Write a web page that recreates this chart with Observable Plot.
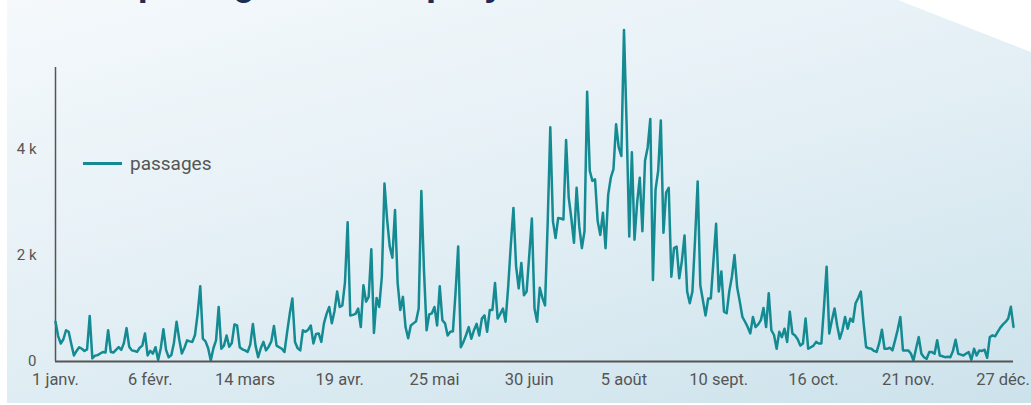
<!DOCTYPE html>
<html><head><meta charset="utf-8">
<script src="https://cdn.jsdelivr.net/npm/d3@7"></script>
<script src="https://cdn.jsdelivr.net/npm/@observablehq/plot@0.6"></script>
<style>
html,body{margin:0;padding:0;background:#fff;width:1031px;height:405px;overflow:hidden;position:relative;}
#panel{position:absolute;left:7px;top:0;width:1024px;height:403px;background:linear-gradient(165deg,#f5f9fc 0%,#e3eff5 50%,#cce2eb 100%);clip-path:polygon(0 0,891px 0,1024px 52px,1024px 403px,0 403px);}
#title{position:absolute;left:72px;top:-38px;font:bold 36px Roboto,sans-serif;color:#1e2c56;white-space:nowrap;}
#chart{position:absolute;left:0;top:0;}
#legend{position:absolute;left:83px;top:151px;height:24px;display:flex;align-items:center;font:19px Roboto,sans-serif;color:#555;}
#legend .sw{width:39px;height:3px;background:#148a93;margin-right:8px;}
</style></head>
<body>
<div id="panel"></div>
<div id="title">Les passages de vélo par jour</div>
<div id="chart"></div>
<div id="legend"><span class="sw"></span><span>passages</span></div>
<script>
const startDate = "2019-01-01";
const endDate = "2019-12-31";
const passages = [
750,480,340,420,590,560,330,115,200,270,240,200,230,860,60,110,120,150,180,170,
590,180,170,220,270,220,350,630,280,210,200,180,260,300,530,115,200,150,270,30,
250,610,220,80,120,350,750,420,150,260,400,380,370,500,900,1420,430,380,250,20,
250,400,1030,240,300,490,280,350,700,680,270,230,210,180,320,710,300,80,250,370,
210,280,380,670,300,270,240,180,550,900,1190,370,250,210,590,560,600,680,340,520,
530,370,720,900,1030,720,950,1320,1030,1060,1500,2630,870,880,900,1000,650,1440,1130,1220,
2120,540,1200,1030,1600,3360,2680,2170,1960,2860,1480,970,1220,650,440,680,720,760,1000,3220,
1730,590,890,910,1030,680,1420,780,720,490,560,570,1300,2170,270,370,500,650,430,590,
710,490,810,870,560,970,970,1480,810,900,1000,750,1410,2200,2900,1800,1380,1860,1250,1320,
2000,2700,1000,750,1390,1200,1060,2600,4420,2650,2330,2710,2700,2680,4180,3100,2700,2240,3280,2550,
2140,2460,5090,3600,3410,3440,2650,2390,2810,2140,3150,3470,3630,4480,4040,3880,6260,4480,2360,3950,
2300,3000,3470,2460,3790,4040,4580,1540,3250,3600,4550,2430,3190,3280,1600,2140,2170,1570,1900,2380,
1320,1100,1320,2300,3400,1440,1150,870,1190,1190,1900,2600,1320,1700,940,910,1320,1600,2010,1400,
1130,840,750,650,530,840,650,700,780,1010,650,1290,590,500,240,560,460,620,370,940,
530,490,420,300,340,810,240,270,300,370,340,340,1030,1790,530,780,1000,680,430,590,
840,620,810,750,1100,1200,1320,750,272,250,240,200,180,350,600,240,240,260,210,400,
600,840,210,210,210,150,19,250,460,146,80,51,177,177,146,400,114,100,82,90,
82,200,412,146,130,114,150,177,32,241,114,209,200,222,70,462,494,475,560,640,
700,747,811,1032,652
];
const tickDates = ["2019-01-01","2019-02-06","2019-03-14","2019-04-19","2019-05-25","2019-06-30","2019-08-05","2019-09-10","2019-10-16","2019-11-21","2019-12-27"];
const tickLabels = ["1 janv.","6 févr.","14 mars","19 avr.","25 mai","30 juin","5 août","10 sept.","16 oct.","21 nov.","27 déc."];
const yTicks = [0, 2000, 4000];
const yTickLabels = ["0", "2 k", "4 k"];
const yMax = 5550;

const t0 = new Date(startDate);
const data = passages.map((v, i) => ({date: d3.utcDay.offset(t0, i), v}));
const xt = tickDates.map(s => new Date(s));
const xLab = new Map(xt.map((d, i) => [+d, tickLabels[i]]));
const yLab = new Map(yTicks.map((d, i) => [d, yTickLabels[i]]));

const chart = Plot.plot({
  width: 1031, height: 405,
  marginLeft: 55, marginRight: 18, marginTop: 67, marginBottom: 44,
  style: {background: "transparent", fontFamily: "Roboto, sans-serif", color: "#555", overflow: "visible"},
  x: {type: "utc", domain: [t0, new Date(endDate)]},
  y: {domain: [0, yMax]},
  marks: [
    Plot.axisY({ticks: yTicks, tickSize: 0, tickPadding: 19, tickFormat: d => yLab.get(d), label: null, fontSize: 15, fill: "#555"}),
    Plot.axisX({ticks: xt, tickSize: 0, tickPadding: 12, tickFormat: d => xLab.get(+d), label: null, fontSize: 16.5, fill: "#555"}),
    Plot.ruleX([t0], {y1: 0, y2: yMax, stroke: "#555", strokeWidth: 1.5}),
    Plot.lineY(data, {x: "date", y: "v", stroke: "#148a93", strokeWidth: 2.5}),
    Plot.ruleY([0], {stroke: "#555", strokeWidth: 2})
  ]
});
document.getElementById("chart").appendChild(chart);
</script>
</body></html>
